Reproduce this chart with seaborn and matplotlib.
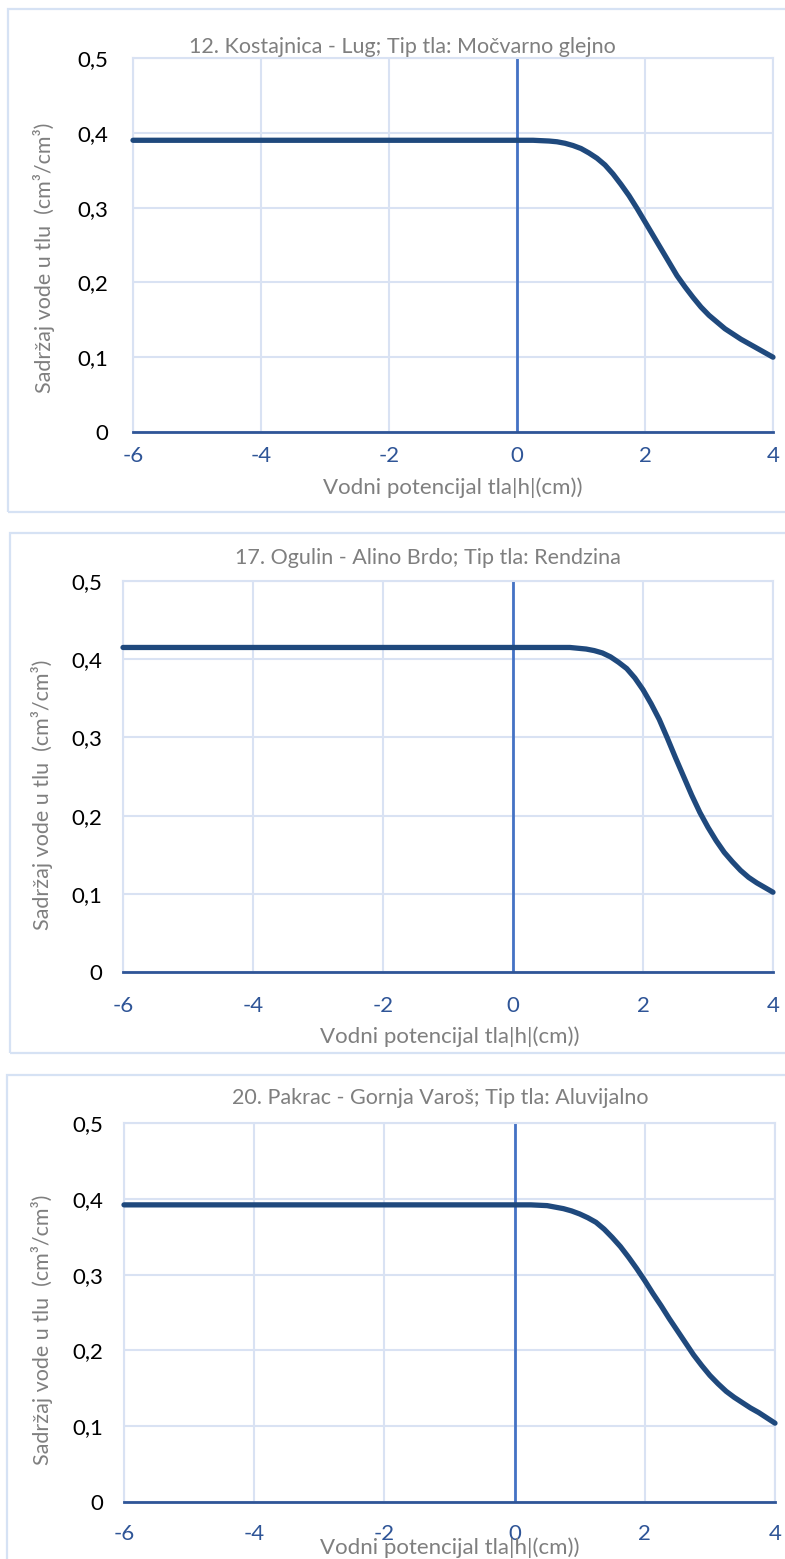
import matplotlib
matplotlib.use("Agg")
import matplotlib.pyplot as plt
import matplotlib.patches as mpatches
import seaborn as sns
import pandas as pd

# podaci ocitani sa slike (x = log10|h|, y = sadrzaj vode)
x_vals = [-6, -3, 0, 0.25, 0.5, 0.625, 0.75, 0.875, 1.0, 1.125, 1.25, 1.375, 1.5, 1.625,
          1.75, 1.875, 2.0, 2.125, 2.25, 2.375, 2.5, 2.625, 2.75, 2.875, 3.0, 3.125, 3.25,
          3.375, 3.5, 3.625, 3.75, 3.875, 4.0]

theta_kostajnica = [0.390, 0.390, 0.390, 0.390, 0.389, 0.388, 0.386, 0.383, 0.379, 0.373,
                    0.366, 0.357, 0.345, 0.331, 0.316, 0.299, 0.281, 0.263, 0.245, 0.227,
                    0.209, 0.194, 0.180, 0.167, 0.156, 0.147, 0.138, 0.131, 0.124, 0.118,
                    0.112, 0.106, 0.100]
theta_ogulin = [0.415, 0.415, 0.415, 0.415, 0.415, 0.415, 0.415, 0.415, 0.414, 0.413,
                0.411, 0.408, 0.403, 0.396, 0.388, 0.376, 0.361, 0.343, 0.323, 0.299,
                0.274, 0.250, 0.226, 0.204, 0.185, 0.168, 0.153, 0.141, 0.130, 0.121,
                0.114, 0.108, 0.102]
theta_pakrac = [0.392, 0.392, 0.392, 0.392, 0.391, 0.389, 0.387, 0.384, 0.380, 0.375,
                0.369, 0.360, 0.349, 0.337, 0.323, 0.308, 0.292, 0.275, 0.259, 0.242,
                0.226, 0.210, 0.194, 0.180, 0.167, 0.156, 0.146, 0.138, 0.131, 0.124,
                0.118, 0.111, 0.104]

titles = ["12. Kostajnica - Lug; Tip tla: Močvarno glejno",
          "17. Ogulin - Alino Brdo; Tip tla: Rendzina",
          "20. Pakrac - Gornja Varoš; Tip tla: Aluvijalno"]

x_ticks = [-6, -4, -2, 0, 2, 4]
x_tick_labels = ["-6", "-4", "-2", "0", "2", "4"]
y_ticks = [0, 0.1, 0.2, 0.3, 0.4, 0.5]
y_tick_labels = ["0", "0,1", "0,2", "0,3", "0,4", "0,5"]

xlabel = "Vodni potencijal tla|h|(cm))"
ylabel = "Sadržaj vode u tlu  (cm³/cm³)"

sns.set_theme(style="white")
plt.rcParams["font.family"] = ["Lato", "DejaVu Sans"]

W, H = 785, 1559
fig = plt.figure(figsize=(W / 100, H / 100), dpi=100)


def rect(l, t, r, b):
    return [l / W, 1 - b / H, (r - l) / W, (b - t) / H]


# raspored (pikseli): plot podrucje, okvir grafa, naslov, oznake
panels = [
    dict(plot=(133, 58, 773, 432), box=(8, 9, 820, 512), title=(402, 47),
         xl=(453, 488), yl=(44, 258), ypad=18, xpad=10, data=theta_kostajnica),
    dict(plot=(123, 581, 773, 972), box=(10, 533, 820, 1053), title=(428, 558),
         xl=(450, 1037), yl=(42, 795), ypad=15, xpad=17, data=theta_ogulin),
    dict(plot=(124, 1123, 775, 1502), box=(7, 1075, 820, 1620), title=(440, 1098),
         xl=(450, 1548), yl=(42, 1330), ypad=15, xpad=16, data=theta_pakrac),
]

grid_c = "#D9E2F3"
curve_c = "#1F497D"
axis_c = "#2F5597"
grey = "#7F7F7F"

for i, p in enumerate(panels):
    l, t, r, b = p["plot"]
    bl, bt, br, bb = p["box"]
    fig.add_artist(mpatches.Rectangle((bl / W, 1 - bb / H), (br - bl) / W, (bb - bt) / H,
                                      transform=fig.transFigure, fill=False,
                                      ec="#D6E2F4", lw=1.6))
    ax = fig.add_axes(rect(l, t, r, b))
    df = pd.DataFrame({"h": x_vals, "theta": p["data"]})

    ax.set_xlim(-6, 4)
    ax.set_ylim(0, 0.5)
    ax.set_xticks(x_ticks)
    ax.set_xticklabels(x_tick_labels)
    ax.set_yticks(y_ticks)
    ax.set_yticklabels(y_tick_labels)
    ax.grid(True, color=grid_c, lw=1.5)
    ax.set_axisbelow(True)
    for s in ["left", "top", "right"]:
        ax.spines[s].set_color(grid_c)
        ax.spines[s].set_linewidth(1.5)
    ax.spines["bottom"].set_color(axis_c)
    ax.spines["bottom"].set_linewidth(2)
    ax.axvline(0, color="#4472C4", lw=2, zorder=2)

    sns.lineplot(data=df, x="h", y="theta", ax=ax, color=curve_c, lw=3.8,
                 solid_capstyle="round", solid_joinstyle="round", clip_on=False, zorder=3)

    ax.tick_params(axis="x", length=0, pad=p["xpad"], labelsize=16, labelcolor=axis_c)
    ax.tick_params(axis="y", length=0, pad=p["ypad"], labelsize=16, labelcolor="black")

    pw, ph = r - l, b - t
    ax.set_title(titles[i], fontsize=15.5, color=grey, pad=0,
                 x=(p["title"][0] - l) / pw, y=(b - p["title"][1]) / ph, va="center")
    ax.set_xlabel(xlabel, fontsize=16, color=grey)
    ax.xaxis.set_label_coords((p["xl"][0] - l) / pw, (b - p["xl"][1]) / ph)
    ax.xaxis.label.set_va("center")
    ax.set_ylabel(ylabel, fontsize=15.5, color=grey)
    ax.yaxis.set_label_coords((p["yl"][0] - l) / pw, (b - p["yl"][1]) / ph)
    ax.yaxis.label.set_va("center")

fig.savefig("out.png", dpi=100)
